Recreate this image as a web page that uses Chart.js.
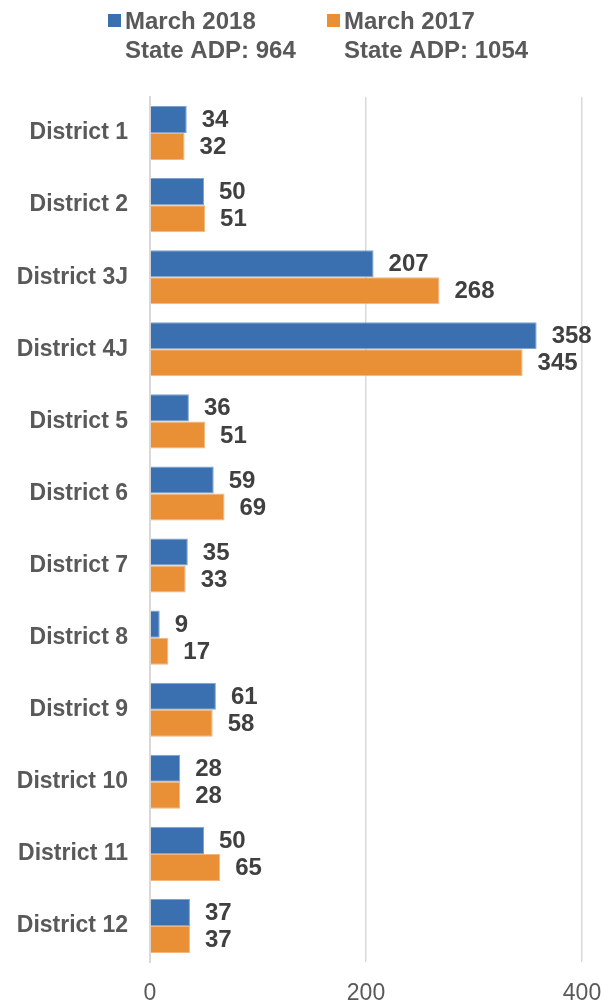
<!DOCTYPE html>
<html>
<head>
<meta charset="utf-8">
<title>District ADP</title>
<script src="https://cdn.jsdelivr.net/npm/chart.js@4.4.1/dist/chart.umd.min.js"></script>
<style>
  html, body { margin: 0; padding: 0; background: #fff; }
  #wrap { position: relative; width: 603px; height: 1004px; }
</style>
</head>
<body>
<div id="wrap"><canvas id="adpChart"></canvas></div>
<script>
// District categories and the two monthly counts
const districts = ['District 1', 'District 2', 'District 3J', 'District 4J', 'District 5', 'District 6',
  'District 7', 'District 8', 'District 9', 'District 10', 'District 11', 'District 12'];
const march2018 = [34, 50, 207, 358, 36, 59, 35, 9, 61, 28, 50, 37];
const march2017 = [32, 51, 268, 345, 51, 69, 33, 17, 58, 28, 65, 37];
const seriesNames = [['March 2018', 'State ADP: 964'], ['March 2017', 'State ADP: 1054']];
const xTicks = [0, 200, 400];

const BLUE = '#3A6FB0';
const ORANGE = '#E98F35';
const FONT = '"Liberation Sans", Arial, sans-serif';

// value labels to the right of each bar
const valueLabels = {
  id: 'valueLabels',
  afterDatasetsDraw(chart) {
    const ctx = chart.ctx;
    ctx.save();
    ctx.font = 'bold 24px ' + FONT;
    ctx.fillStyle = '#404040';
    ctx.textAlign = 'left';
    ctx.textBaseline = 'middle';
    chart.data.datasets.forEach((ds, i) => {
      chart.getDatasetMeta(i).data.forEach((bar, j) => {
        ctx.fillText(String(ds.data[j]), bar.x + 15, bar.y + 1);
      });
    });
    ctx.restore();
  }
};

// two-line legend across the top
const topLegend = {
  id: 'topLegend',
  afterDraw(chart) {
    const ctx = chart.ctx;
    const slots = [108, 327];
    ctx.save();
    ctx.font = 'bold 24px ' + FONT;
    ctx.textBaseline = 'middle';
    ctx.textAlign = 'left';
    chart.data.datasets.forEach((ds, i) => {
      const x = slots[i];
      ctx.fillStyle = ds.backgroundColor;
      ctx.fillRect(x, 14, 13, 13);
      ctx.fillStyle = '#595959';
      ds.label.forEach((line, k) => {
        ctx.fillText(line, x + 17, 22 + k * 29);
      });
    });
    ctx.restore();
  }
};

new Chart(document.getElementById('adpChart'), {
  type: 'bar',
  data: {
    labels: districts,
    datasets: [
      {
        label: seriesNames[0],
        data: march2018,
        backgroundColor: BLUE,
        borderColor: '#7FA2CF',
        borderWidth: 1,
        categoryPercentage: 0.75,
        barPercentage: 1
      },
      {
        label: seriesNames[1],
        data: march2017,
        backgroundColor: ORANGE,
        borderColor: '#F3B57A',
        borderWidth: 1,
        categoryPercentage: 0.75,
        barPercentage: 1
      }
    ]
  },
  options: {
    indexAxis: 'y',
    responsive: true,
    maintainAspectRatio: false,
    animation: false,
    layout: {
      padding: { top: 97, right: 21, left: 0, bottom: 0 }
    },
    plugins: {
      legend: { display: false },
      tooltip: { enabled: false }
    },
    scales: {
      x: {
        min: 0,
        max: 400,
        afterBuildTicks: (scale) => {
          scale.ticks = xTicks.map(v => ({ value: v }));
        },
        afterFit: (scale) => {
          scale.height = 42;
          // the end labels may hang past the plot edges
          scale.paddingLeft = 0;
          scale.paddingRight = 0;
        },
        border: { display: false },
        grid: {
          color: '#D9D9D9',
          lineWidth: 1.5,
          drawTicks: false
        },
        ticks: {
          padding: 18,
          color: '#595959',
          font: { family: FONT, size: 23 }
        }
      },
      y: {
        afterFit: (scale) => { scale.width = 150; },
        border: { color: '#D9D9D9', width: 2 },
        grid: { display: false, drawTicks: false },
        ticks: {
          padding: 22,
          color: '#595959',
          font: { family: FONT, size: 23, weight: 'bold' }
        }
      }
    }
  },
  plugins: [valueLabels, topLegend]
});
</script>
</body>
</html>
